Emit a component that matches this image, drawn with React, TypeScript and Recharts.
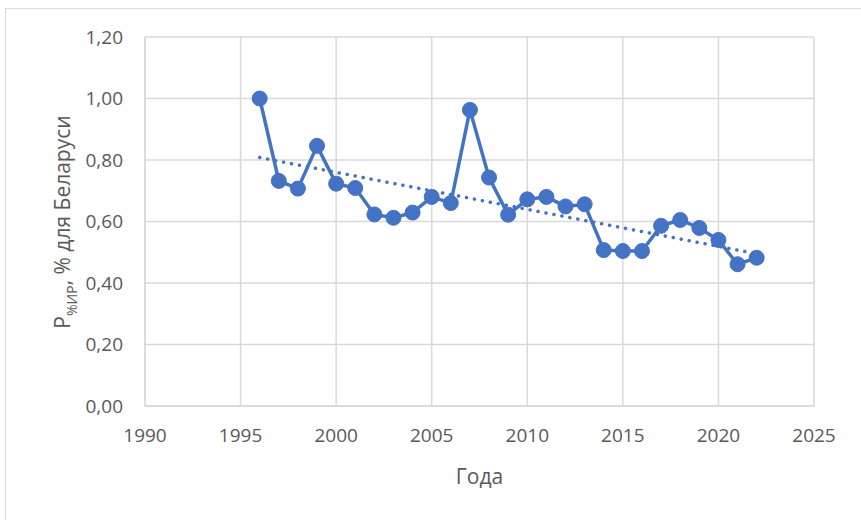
import { LineChart, Line, XAxis, YAxis, CartesianGrid, Label } from 'recharts'

const years = [1996, 1997, 1998, 1999, 2000, 2001, 2002, 2003, 2004, 2005, 2006, 2007, 2008, 2009, 2010, 2011, 2012, 2013, 2014, 2015, 2016, 2017, 2018, 2019, 2020, 2021, 2022]
const shares = [1.0, 0.732, 0.707, 0.846, 0.723, 0.709, 0.623, 0.612, 0.629, 0.68, 0.66, 0.963, 0.743, 0.622, 0.672, 0.68, 0.649, 0.656, 0.507, 0.504, 0.504, 0.586, 0.605, 0.579, 0.54, 0.461, 0.482]

// linear trend at both ends
const trendYears = [1996, 2022]
const trendValues = [0.808, 0.495]

const xTicks = [1990, 1995, 2000, 2005, 2010, 2015, 2020, 2025]
const yTicks = [0, 0.2, 0.4, 0.6, 0.8, 1.0, 1.2]

const series = years.map((year, i) => ({ year, value: shares[i] }))
const trend = trendYears.map((year, i) => ({ year, value: trendValues[i] }))

const BLUE = '#4472C4'
const GRID = '#d9d9d9'
const TEXT = '#595959'
const FONT = '"Open Sans", sans-serif'

const fmt = (v: number) => v.toFixed(2).replace('.', ',')

function YTitle() {
  return (
    <text
      transform="translate(62, 222) rotate(-90)"
      textAnchor="middle"
      dominantBaseline="central"
      fill={TEXT}
      fontFamily={FONT}
      fontSize={21}
    >
      P
      <tspan baselineShift="sub" fontSize={14}>%ИР</tspan>
      <tspan>, % для Беларуси</tspan>
    </text>
  )
}

export default function App() {
  return (
    <div style={{ position: 'absolute', left: 0, top: 0, width: 861, height: 520, overflow: 'hidden', background: '#fff' }}>
      <div style={{ position: 'absolute', left: 5, top: 8, width: 900, height: 600, border: '1px solid #d9d9d9', boxSizing: 'border-box' }} />
      <LineChart
        width={861}
        height={520}
        data={series}
        margin={{ top: 37, right: 47, bottom: 54, left: 65 }}
        style={{ position: 'absolute', left: 0, top: 0 }}
      >
        <CartesianGrid stroke={GRID} strokeWidth={1.5} vertical={true} />
        <XAxis
          dataKey="year"
          type="number"
          domain={[1990, 2025]}
          ticks={xTicks}
          interval={0}
          allowDataOverflow
          tickLine={false}
          axisLine={{ stroke: GRID, strokeWidth: 1.5 }}
          tick={{ fill: TEXT, fontFamily: FONT, fontSize: 19, dy: 15 }}
          height={60}
        >
          <Label value="Года" position="insideBottom" offset={-18} fill={TEXT} fontFamily={FONT} fontSize={21} />
        </XAxis>
        <YAxis
          type="number"
          domain={[0, 1.2]}
          ticks={yTicks}
          interval={0}
          tickFormatter={fmt}
          tickLine={false}
          axisLine={{ stroke: GRID, strokeWidth: 1.5 }}
          tick={{ fill: TEXT, fontFamily: FONT, fontSize: 19, dx: -14 }}
          width={80}
          label={<YTitle />}
        />
        <Line
          data={series}
          dataKey="value"
          stroke={BLUE}
          strokeWidth={3.5}
          dot={{ r: 7.5, fill: BLUE, stroke: BLUE, strokeWidth: 1 }}
          activeDot={false}
          isAnimationActive={false}
        />
        <Line
          data={trend}
          dataKey="value"
          stroke={BLUE}
          strokeWidth={3.5}
          strokeDasharray="0.1 8"
          strokeLinecap="round"
          dot={false}
          activeDot={false}
          isAnimationActive={false}
        />
      </LineChart>
    </div>
  )
}
